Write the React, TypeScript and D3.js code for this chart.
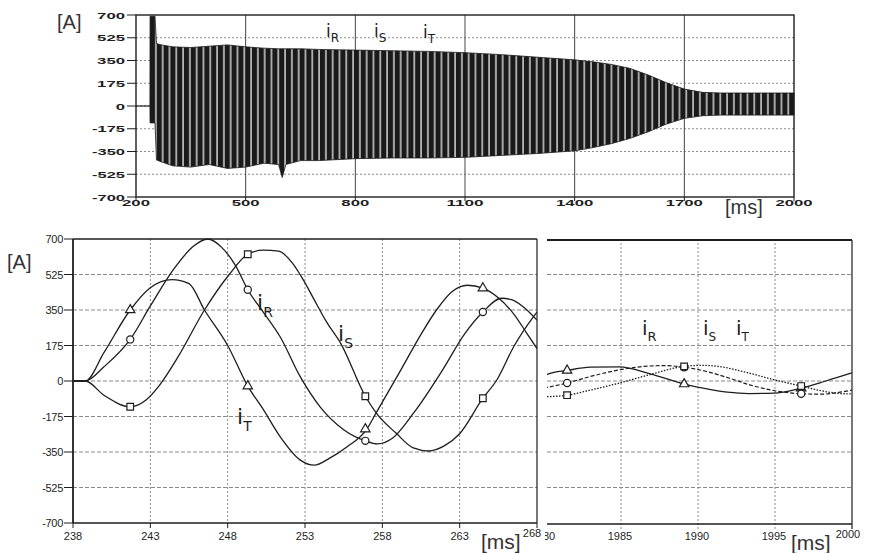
import React from 'react';
import * as d3 from 'd3';

// ---- overview (top) ----
const topTicksY = [700, 525, 350, 175, 0, -175, -350, -525, -700];
const topTicksX = [200, 500, 800, 1100, 1400, 1700, 2000];
const topGridX = [500, 800, 1100, 1400, 1700];
const preFault: [number, number][] = [[200, 0], [238, 0]];
// envelope of the three phase currents
const envT = [238, 238.5, 252, 256, 270, 300, 350, 400, 450, 500, 550, 590, 600, 610, 650, 700, 800, 900, 1000, 1100, 1200, 1300, 1400, 1450, 1500, 1550, 1600, 1650, 1700, 1750, 1800, 1900, 2000];
const envUpper = [0, 690, 690, 480, 470, 455, 450, 460, 470, 455, 445, 440, 440, 440, 440, 435, 430, 425, 420, 410, 395, 375, 355, 340, 320, 290, 240, 180, 130, 105, 100, 100, 100];
const envLower = [0, -130, -130, -415, -430, -460, -470, -450, -480, -470, -440, -450, -550, -450, -420, -420, -405, -400, -400, -395, -380, -365, -345, -320, -290, -250, -200, -140, -95, -75, -70, -70, -70];

// ---- zoom on fault start (bottom left) ----
const zoomTicksY = [700, 525, 350, 175, 0, -175, -350, -525, -700];
const leftTicksX = [238, 243, 248, 253, 258, 263, 268];
const iR: [number, number][] = [[238, 0], [238.8, 0], [240, 70], [241.7, 205], [243, 370], [244.5, 550], [245.8, 665], [246.7, 700], [247.6, 660], [248.5, 570], [249.3, 450], [250.3, 340], [251.4, 217], [252.7, 20], [254, -130], [255.5, -240], [256.9, -295], [257.7, -310], [258.6, -285], [260, -160], [261.9, 55], [263.3, 230], [264.5, 340], [265.7, 408], [266.4, 400], [267.2, 360], [268, 300]];
const iS: [number, number][] = [[238, 0], [238.8, 0], [240, -70], [241.7, -127], [242.7, -95], [243.6, -20], [244.8, 120], [246.5, 350], [248.1, 525], [249.3, 625], [250.3, 645], [251.3, 640], [252.2, 580], [252.9, 497], [253.6, 400], [254.4, 290], [255.3, 187], [256.9, -75], [257.6, -157], [258.9, -258], [260, -330], [261, -345], [262, -320], [263, -260], [264.5, -85], [265.4, 5], [266.5, 170], [267.8, 320], [268, 340]];
const iT: [number, number][] = [[238, 0], [238.8, 0], [240, 140], [241.7, 350], [243, 460], [244.4, 500], [245.5, 480], [246.5, 350], [248, 175], [249.3, -25], [250.3, -140], [251.4, -275], [252.7, -390], [253.6, -415], [254.6, -380], [255.7, -325], [257, -237], [257.6, -157], [259.2, 55], [260.5, 230], [261.5, 350], [262.5, 440], [263.5, 472], [264.5, 458], [265.5, 410], [266.5, 330], [267.3, 240], [268, 160]];
const markLeftT = [241.7, 249.3, 256.9, 264.5];
const markLeftR = [205, 450, -295, 340];
const markLeftS = [-127, 625, -75, -85];
const markLeftTv = [350, -25, -237, 458];

// ---- zoom on end (bottom right) ----
const rightTicksX = [1980, 1985, 1990, 1995, 2000];
const rT: [number, number][] = [[1980, 25], [1980.3, 35], [1981.5, 52], [1983, 68], [1984.9, 70], [1986.9, 35], [1989.1, -15], [1990.5, -38], [1991.9, -55], [1993.3, -62], [1994.9, -60], [1996.7, -35], [1998.3, 0], [2000, 40]];
const rR: [number, number][] = [[1980, -35], [1980.3, -30], [1981.5, -10], [1983, 22], [1984.9, 55], [1986.5, 72], [1987.8, 76], [1989.1, 68], [1990.5, 48], [1992, 15], [1993.5, -22], [1995, -48], [1996.7, -63], [1998, -65], [1999, -58], [2000, -45]];
const rS: [number, number][] = [[1980, -78], [1980.3, -77], [1981.5, -70], [1983, -45], [1984.9, -10], [1986.9, 32], [1989.1, 72], [1990.3, 77], [1991.5, 70], [1993, 45], [1995, 5], [1996.7, -25], [1998, -48], [1999, -60], [2000, -64]];
const markRightT = [1981.5, 1989.1, 1996.7];
const markRightTv = [52, -15, -35];
const markRightR = [-10, 68, -63];
const markRightS = [-70, 72, -25];

const ink = '#1e1e1e';
const gridCol = '#8a8a8a';
const hand = '"DejaVu Sans", sans-serif';
const plain = '"Liberation Sans", Arial, sans-serif';

function wideLen(s: string) {
  let n = 0;
  for (const c of s) n += c === '-' ? 5 : 9.3;
  return n;
}

function Phase({ x, y, sub, size, subSize }: { x: number; y: number; sub: string; size: number; subSize: number }) {
  return (
    <text x={x} y={y} fontFamily={hand} fontSize={size} fill={ink}>
      i<tspan fontSize={subSize} dy={size * 0.3}>{sub}</tspan>
    </text>
  );
}

export default function App() {
  // scales
  const xTop = d3.scaleLinear().domain([200, 2000]).range([136, 794]);
  const yTop = d3.scaleLinear().domain([-700, 700]).range([197, 15]);
  const xL = d3.scaleLinear().domain([238, 268]).range([73, 537]);
  const xR = d3.scaleLinear().domain([1980, 2000]).range([544, 852]);
  const yB = d3.scaleLinear().domain([-700, 700]).range([523, 239]);

  const envArea = d3.area<number>()
    .x((t) => xTop(t))
    .y0((_, i) => yTop(envLower[i]))
    .y1((_, i) => yTop(envUpper[i]));
  const topLine = d3.line<[number, number]>().x((d) => xTop(d[0])).y((d) => yTop(d[1]));
  const lineL = d3.line<[number, number]>().x((d) => xL(d[0])).y((d) => yB(d[1])).curve(d3.curveMonotoneX);
  const lineR = d3.line<[number, number]>().x((d) => xR(d[0])).y((d) => yB(d[1])).curve(d3.curveMonotoneX);

  const tri = d3.symbol(d3.symbolTriangle, 38)() as string;
  const sq = d3.symbol(d3.symbolSquare, 44)() as string;

  const markers = (xs: number[], vs: number[], kind: 'tri' | 'circ' | 'sq', xs2: (v: number) => number) =>
    xs.map((t, i) => {
      const cx = xs2(t);
      const cy = yB(vs[i]);
      if (kind === 'circ') return <circle key={kind + i} cx={cx} cy={cy} r={3.6} fill="#fff" stroke={ink} strokeWidth={1.2} />;
      return <path key={kind + i} d={kind === 'tri' ? tri : sq} transform={`translate(${cx},${cy})`} fill="#fff" stroke={ink} strokeWidth={1.2} />;
    });

  const rightLeftEdge = 547;

  return (
    <svg width={870} height={553} style={{ position: 'absolute', left: 0, top: 0, background: '#fff' }}>
      <defs>
        <pattern id="stripes" patternUnits="userSpaceOnUse" x={150} y={0} width={6.8} height={10}>
          <rect width={6.8} height={10} fill="#b4b4b4" />
          <rect width={5} height={10} fill="#1a1a1a" />
        </pattern>
        <clipPath id="clipR">
          <rect x={rightLeftEdge} y={230} width={852 - rightLeftEdge} height={300} />
        </clipPath>
        <clipPath id="clipRLabels">
          <rect x={545} y={525} width={330} height={28} />
        </clipPath>
        <clipPath id="clipL">
          <rect x={73} y={230} width={537 - 73} height={300} />
        </clipPath>
      </defs>

      {/* ---------- top overview ---------- */}
      <g>
        {topTicksY.map((v) => (
          <g key={'ty' + v}>
            {Math.abs(v) < 700 && (
              <line x1={136} x2={794} y1={yTop(v)} y2={yTop(v)} stroke={gridCol} strokeWidth={1} strokeDasharray="2 2" />
            )}
            <line x1={127} x2={136} y1={yTop(v)} y2={yTop(v)} stroke={ink} strokeWidth={1} />
            <text x={125} y={yTop(v) + 3.5} textAnchor="end" fontFamily={plain} fontWeight="bold" fontSize={9}
              textLength={wideLen(String(v))} lengthAdjust="spacingAndGlyphs" fill={ink}>{v}</text>
          </g>
        ))}
        {topGridX.map((t) => (
          <line key={'tg' + t} x1={xTop(t)} x2={xTop(t)} y1={15} y2={197} stroke="#444" strokeWidth={1} />
        ))}
        {topTicksX.map((t) => (
          <g key={'tx' + t}>
            <line x1={xTop(t)} x2={xTop(t)} y1={197} y2={201} stroke={ink} strokeWidth={1} />
            <text x={xTop(t)} y={206} textAnchor="middle" fontFamily={plain} fontWeight="bold" fontSize={9}
              textLength={wideLen(String(t))} lengthAdjust="spacingAndGlyphs" fill={ink}>{t}</text>
          </g>
        ))}
        <path d={envArea(envT) as string} fill="url(#stripes)" stroke="#1a1a1a" strokeWidth={0.8} />
        <path d={topLine(preFault) as string} fill="none" stroke={ink} strokeWidth={1.2} />
        <rect x={136} y={15} width={794 - 136} height={182} fill="none" stroke={ink} strokeWidth={1.4} />
        <text x={57} y={29} fontFamily={plain} fontSize={20} fill="#333">[A]</text>
        <text x={725} y={214} fontFamily={plain} fontSize={20} fill="#333">[ms]</text>
        <Phase x={326} y={37} sub="R" size={17} subSize={12} />
        <Phase x={374} y={37} sub="S" size={17} subSize={12} />
        <Phase x={423} y={38} sub="T" size={17} subSize={12} />
      </g>

      {/* ---------- bottom right: end of record ---------- */}
      <g>
        {zoomTicksY.filter((v) => Math.abs(v) < 700).map((v) => (
          <line key={'rgy' + v} x1={rightLeftEdge} x2={852} y1={yB(v)} y2={yB(v)} stroke={gridCol} strokeWidth={1} strokeDasharray="4 2" />
        ))}
        {rightTicksX.slice(1, -1).map((t) => (
          <line key={'rgx' + t} x1={xR(t)} x2={xR(t)} y1={yB(700)} y2={yB(-700) + 6} stroke={gridCol} strokeWidth={1} strokeDasharray="2 2" />
        ))}
        <line x1={rightLeftEdge} x2={852} y1={yB(700) + 1} y2={yB(700) + 1} stroke={ink} strokeWidth={2} />
        <line x1={rightLeftEdge} x2={852} y1={yB(-700) + 1} y2={yB(-700) + 1} stroke={ink} strokeWidth={1.4} />
        <line x1={852} x2={852} y1={yB(700) + 1} y2={yB(-700) + 6} stroke={ink} strokeWidth={1.2} />
        <g clipPath="url(#clipRLabels)">
          {rightTicksX.map((t) => (
            <text key={'rx' + t} x={t === 2000 ? xR(t) - 4 : xR(t) - 1} y={t === 2000 ? 538 : 540} textAnchor="middle" fontFamily={plain} fontSize={11} fill={ink}>{t}</text>
          ))}
        </g>
        <g clipPath="url(#clipR)">
          <path d={lineR(rT) as string} fill="none" stroke={ink} strokeWidth={1.3} />
          <path d={lineR(rR) as string} fill="none" stroke={ink} strokeWidth={1.2} strokeDasharray="4 2" />
          <path d={lineR(rS) as string} fill="none" stroke={ink} strokeWidth={1.3} strokeDasharray="1.5 1.5" />
        </g>
        {markers(markRightT, markRightTv, 'tri', xR)}
        {markers(markRightT, markRightR, 'circ', xR)}
        {markers(markRightT, markRightS, 'sq', xR)}
        <text x={791} y={550} fontFamily={plain} fontSize={21} fill="#333">[ms]</text>
        <Phase x={642} y={335} sub="R" size={20} subSize={13} />
        <Phase x={703} y={335} sub="S" size={20} subSize={12} />
        <Phase x={736} y={335} sub="T" size={20} subSize={12} />
      </g>

      {/* ---------- bottom left: fault inception ---------- */}
      <g>
        {zoomTicksY.map((v) => (
          <g key={'ly' + v}>
            {Math.abs(v) < 700 && (
              <line x1={73} x2={537} y1={yB(v)} y2={yB(v)} stroke={gridCol} strokeWidth={1} strokeDasharray="4 2" />
            )}
            <line x1={64} x2={73} y1={yB(v)} y2={yB(v)} stroke={ink} strokeWidth={1} />
            <text x={63} y={yB(v) + 4} textAnchor="end" fontFamily={plain} fontSize={11} letterSpacing={-0.3} fill={ink}>{v}</text>
          </g>
        ))}
        {leftTicksX.map((t) => (
          <g key={'lx' + t}>
            {t !== 238 && t !== 268 && (
              <line x1={xL(t)} x2={xL(t)} y1={yB(700)} y2={yB(-700)} stroke={gridCol} strokeWidth={1} strokeDasharray="2 2" />
            )}
            <line x1={xL(t)} x2={xL(t)} y1={yB(-700)} y2={yB(-700) + 5} stroke={ink} strokeWidth={1} />
            <text x={t === 268 ? xL(t) - 5 : xL(t)} y={t === 268 ? 537 : 540} textAnchor="middle" fontFamily={plain} fontSize={11} fill={ink}>{t}</text>
          </g>
        ))}
        <g clipPath="url(#clipL)">
          <path d={lineL(iT) as string} fill="none" stroke={ink} strokeWidth={1.3} />
          <path d={lineL(iR) as string} fill="none" stroke={ink} strokeWidth={1.3} />
          <path d={lineL(iS) as string} fill="none" stroke={ink} strokeWidth={1.3} />
        </g>
        <line x1={73} x2={537} y1={yB(700)} y2={yB(700)} stroke={ink} strokeWidth={1.6} />
        <line x1={73} x2={537} y1={yB(-700)} y2={yB(-700)} stroke={ink} strokeWidth={1.6} />
        <line x1={73} x2={73} y1={yB(700)} y2={yB(-700)} stroke={ink} strokeWidth={1.8} />
        <line x1={537} x2={537} y1={yB(700)} y2={yB(-700)} stroke={ink} strokeWidth={1.2} />
        {markers(markLeftT, markLeftTv, 'tri', xL)}
        {markers(markLeftT, markLeftR, 'circ', xL)}
        {markers(markLeftT, markLeftS, 'sq', xL)}
        <text x={7} y={269} fontFamily={plain} fontSize={20} fill="#333">[A]</text>
        <text x={481} y={549} fontFamily={plain} fontSize={21} fill="#333">[ms]</text>
        <Phase x={257} y={310} sub="R" size={22} subSize={14} />
        <Phase x={338} y={341} sub="S" size={22} subSize={14} />
        <Phase x={237} y={424} sub="T" size={22} subSize={14} />
      </g>
    </svg>
  );
}
